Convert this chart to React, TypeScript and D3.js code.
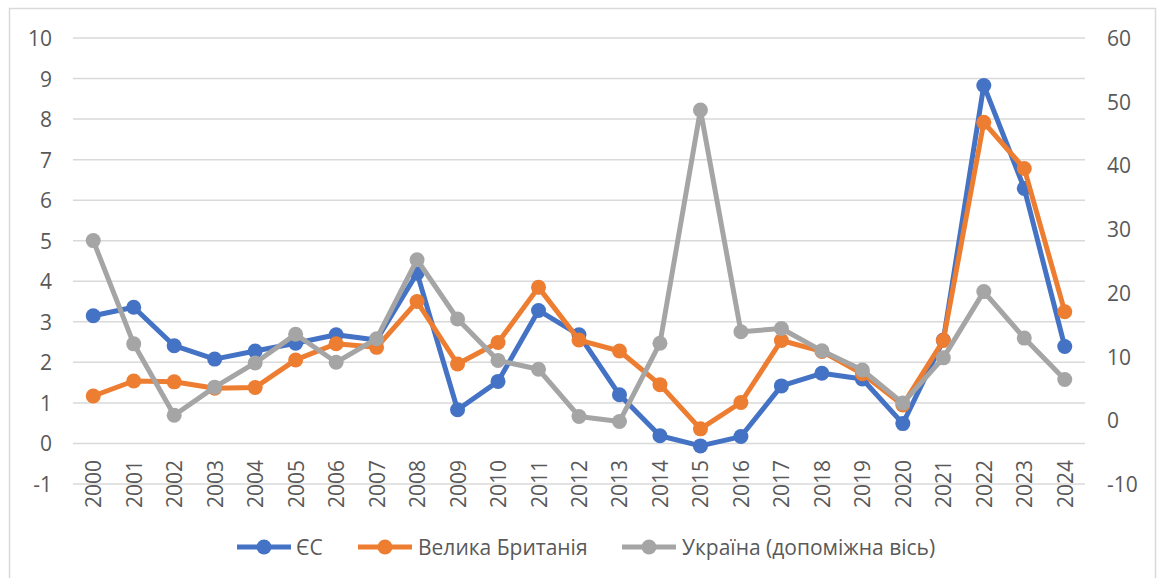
import React, { useEffect, useRef } from "react";
import * as d3 from "d3";

const years = [
  "2000", "2001", "2002", "2003", "2004", "2005", "2006", "2007", "2008", "2009",
  "2010", "2011", "2012", "2013", "2014", "2015", "2016", "2017", "2018", "2019",
  "2020", "2021", "2022", "2023", "2024",
];

const euValues = [
  3.15, 3.36, 2.41, 2.08, 2.28, 2.47, 2.68, 2.55, 4.2, 0.83,
  1.53, 3.28, 2.68, 1.2, 0.19, -0.06, 0.17, 1.42, 1.73, 1.59,
  0.49, 2.55, 8.83, 6.29, 2.39,
];

const ukValues = [
  1.17, 1.54, 1.52, 1.36, 1.38, 2.06, 2.46, 2.37, 3.5, 1.96,
  2.49, 3.85, 2.55, 2.28, 1.45, 0.36, 1.01, 2.54, 2.27, 1.72,
  0.95, 2.54, 7.92, 6.78, 3.25,
];

const uaValues = [
  28.2, 12.0, 0.8, 5.2, 9.0, 13.5, 9.1, 12.8, 25.2, 15.9,
  9.4, 8.0, 0.6, -0.2, 12.1, 48.7, 13.9, 14.4, 10.9, 7.9,
  2.7, 9.8, 20.2, 12.9, 6.4,
];

const leftTicks = [-1, 0, 1, 2, 3, 4, 5, 6, 7, 8, 9, 10];
const rightTicks = [-10, 0, 10, 20, 30, 40, 50, 60];

const series = [
  { name: "ЄС", color: "#4472C4", values: euValues, axis: "left" },
  { name: "Велика Британія", color: "#ED7D31", values: ukValues, axis: "left" },
  { name: "Україна (допоміжна вісь)", color: "#A5A5A5", values: uaValues, axis: "right" },
];

const W = 1162;
const H = 578;
const FONT = "'Open Sans', sans-serif";
const TEXT = "#595959";
const FS = "21px";

export default function App() {
  const svgRef = useRef<SVGSVGElement | null>(null);

  useEffect(() => {
    if (!svgRef.current) return;
    const svg = d3.select(svgRef.current);
    svg.selectAll("*").remove();

    const plot = { left: 73, right: 1085, top: 38, bottom: 484 };

    // outer chart border (bottom edge lies outside the picture)
    svg.append("rect")
      .attr("x", 9.5).attr("y", 8.5)
      .attr("width", 1146).attr("height", 600)
      .attr("fill", "white")
      .attr("stroke", "#d9d9d9")
      .attr("stroke-width", 1.5);

    const x = d3.scaleBand<string>()
      .domain(years)
      .range([plot.left, plot.right]);
    const cx = (y: string) => x(y)! + x.bandwidth() / 2;

    const yLeft = d3.scaleLinear().domain([-1, 10]).range([plot.bottom, plot.top]);
    const yRight = d3.scaleLinear().domain([-10, 60]).range([plot.bottom, plot.top]);

    // gridlines
    svg.append("g")
      .selectAll("line")
      .data(leftTicks)
      .join("line")
      .attr("x1", plot.left).attr("x2", plot.right)
      .attr("y1", d => yLeft(d)).attr("y2", d => yLeft(d))
      .attr("stroke", "#d9d9d9")
      .attr("stroke-width", 1.5);

    // left axis labels
    svg.append("g")
      .selectAll("text")
      .data(leftTicks)
      .join("text")
      .attr("x", 52)
      .attr("y", d => yLeft(d))
      .attr("text-anchor", "end")
      .attr("dominant-baseline", "central")
      .style("font-family", FONT)
      .style("font-size", FS)
      .style("fill", TEXT)
      .text(d => String(d));

    // right axis labels
    svg.append("g")
      .selectAll("text")
      .data(rightTicks)
      .join("text")
      .attr("x", 1107)
      .attr("y", d => yRight(d))
      .attr("text-anchor", "start")
      .attr("dominant-baseline", "central")
      .style("font-family", FONT)
      .style("font-size", FS)
      .style("fill", TEXT)
      .text(d => String(d));

    // year labels, rotated
    svg.append("g")
      .selectAll("text")
      .data(years)
      .join("text")
      .attr("transform", d => `translate(${cx(d)},460) rotate(-90)`)
      .attr("text-anchor", "end")
      .attr("dominant-baseline", "central")
      .style("font-family", FONT)
      .style("font-size", FS)
      .style("fill", TEXT)
      .text(d => d);

    // series
    series.forEach(s => {
      const yScale = s.axis === "left" ? yLeft : yRight;
      const line = d3.line<number>()
        .x((_, i) => cx(years[i]))
        .y(v => yScale(v));
      const g = svg.append("g");
      g.append("path")
        .datum(s.values)
        .attr("d", line)
        .attr("fill", "none")
        .attr("stroke", s.color)
        .attr("stroke-width", 5)
        .attr("stroke-linejoin", "round");
      g.selectAll("circle")
        .data(s.values)
        .join("circle")
        .attr("cx", (_, i) => cx(years[i]))
        .attr("cy", v => yScale(v))
        .attr("r", 7.5)
        .attr("fill", s.color);
    });

    // legend
    const legendY = 547;
    const legendItems = [
      { x: 237, textX: 296 },
      { x: 358, textX: 418 },
      { x: 622, textX: 682 },
    ];
    series.forEach((s, i) => {
      const item = legendItems[i];
      const g = svg.append("g");
      g.append("line")
        .attr("x1", item.x).attr("x2", item.x + 54)
        .attr("y1", legendY).attr("y2", legendY)
        .attr("stroke", s.color)
        .attr("stroke-width", 5);
      g.append("circle")
        .attr("cx", item.x + 27).attr("cy", legendY)
        .attr("r", 7.5)
        .attr("fill", s.color);
      g.append("text")
        .attr("x", item.textX)
        .attr("y", legendY)
        .attr("dominant-baseline", "central")
        .style("font-family", FONT)
        .style("font-size", FS)
        .style("fill", TEXT)
        .text(s.name);
    });
  }, []);

  return (
    <div style={{ position: "absolute", left: 0, top: 0, width: W, height: H, overflow: "hidden" }}>
      <svg ref={svgRef} width={W} height={H} />
    </div>
  );
}
